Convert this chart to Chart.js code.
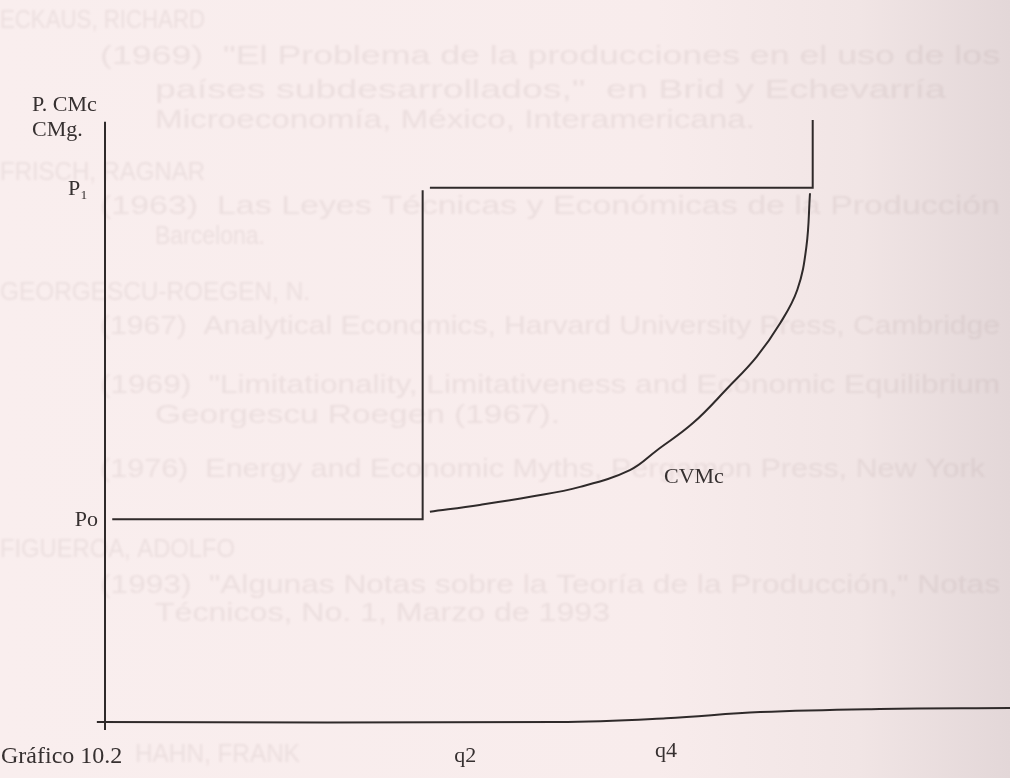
<!DOCTYPE html>
<html>
<head>
<meta charset="utf-8">
<script src="https://cdn.jsdelivr.net/npm/chart.js@4.4.1/dist/chart.umd.min.js"></script>
<style>
html, body { margin: 0; padding: 0; }
body {
  width: 1010px; height: 778px; overflow: hidden;
  background: linear-gradient(to right, #f9eeee 0%, #f8ecec 65%, #f1e5e5 85%, #e3d7d8 100%);
}
canvas { display: block; }
</style>
</head>
<body>
<canvas id="grafico" width="1010" height="778"></canvas>
<script>
// unidades del gráfico: cantidad 0-100 (x), precio 0-100 (y)
const qSteps = [35.1, 78.2];            // q2, q4 (saltos verticales)
const pSteps = [32.6, 85.9];            // Po, P1
const qTop = 96.8;                      // fin del tramo vertical en q4
const pLabels = ['Po', 'P₁'];
const qTickVals = [39.8, 62.0];
const qTickLabels = ['q2', 'q4'];
const yTitle = ['P. CMc', 'CMg.'];
const caption = 'Gráfico 10.2';

// curva CVMc
const cvmcX = [35.9, 41.4, 47.0, 52.5, 58.0, 61.0, 65.0, 68.8, 72.0, 74.6, 76.5, 77.5, 77.9];
const cvmcY = [33.8, 34.9, 36.2, 37.8, 40.5, 43.7, 48.1, 53.7, 58.7, 64.1, 69.5, 76.4, 85.0];

// ejes (el eje x del escaneo se curva un poco a la derecha)
const ejeXx = [-0.9, 50.0, 62.0, 72.4, 85.6, 100];
const ejeXy = [0, 0, 0.6, 1.6, 2.1, 2.25];
const ejeYx = [0, 0];
const ejeYy = [-1.3, 96.5];

// texto que se transparenta de la otra cara de la hoja: [x, y, ancho, texto]
const bleedLines = [
  [0, 28, 205, 'ECKAUS, RICHARD'],
  [100, 64, 900, '(1969)  "El Problema de la producciones en el uso de los'],
  [155, 98, 845, 'países subdesarrollados,"  en Brid y Echevarría'],
  [155, 128, 600, 'Microeconomía, México, Interamericana.'],
  [0, 180, 205, 'FRISCH, RAGNAR'],
  [100, 214, 900, '(1963)  Las Leyes Técnicas y Económicas de la Producción'],
  [155, 244, 110, 'Barcelona.'],
  [0, 300, 310, 'GEORGESCU-ROEGEN, N.'],
  [100, 334, 900, '(1967)  Analytical Economics, Harvard University Press, Cambridge'],
  [100, 393, 900, '(1969)  "Limitationality, Limitativeness and Economic Equilibrium'],
  [155, 423, 405, 'Georgescu Roegen (1967).'],
  [100, 477, 885, '(1976)  Energy and Economic Myths, Pergamon Press, New York'],
  [0, 557, 235, 'FIGUEROA, ADOLFO'],
  [100, 593, 900, '(1993)  "Algunas Notas sobre la Teoría de la Producción," Notas'],
  [155, 621, 455, 'Técnicos, No. 1, Marzo de 1993'],
  [135, 762, 165, 'HAHN, FRANK']
];

const pts = (xs, ys) => xs.map((x, i) => ({x: x, y: ys[i]}));
const linea = '#2f2a2a';

const tramoBajo = [
  {x: 0.8, y: pSteps[0]}, {x: qSteps[0], y: pSteps[0]}, {x: qSteps[0], y: pSteps[1] - 0.4}
];
const tramoAlto = [
  {x: qSteps[0] + 0.8, y: pSteps[1]}, {x: qSteps[1], y: pSteps[1]}, {x: qSteps[1], y: qTop}
];

const fondoTexto = {
  id: 'fondoTexto',
  beforeDraw(chart) {
    const ctx = chart.ctx;
    ctx.save();
    ctx.fillStyle = 'rgba(150,125,125,0.12)';
    ctx.font = '25px "Liberation Sans", Arial, sans-serif';
    ctx.filter = 'blur(1.2px)';
    ctx.textBaseline = 'alphabetic';
    bleedLines.forEach(l => {
      const w = ctx.measureText(l[3]).width;
      const sx = Math.min(1.5, Math.max(0.8, l[2] / w));
      ctx.save();
      ctx.translate(l[0], l[1]);
      ctx.scale(sx, 1);
      ctx.fillText(l[3], 0, 0);
      ctx.restore();
    });
    ctx.restore();
  }
};

const etiquetas = {
  id: 'etiquetas',
  afterDraw(chart) {
    const ctx = chart.ctx;
    const xs = chart.scales.x, ys = chart.scales.y;
    ctx.save();
    ctx.fillStyle = '#363030';
    ctx.font = '22px "Liberation Serif", "Times New Roman", serif';
    ctx.textBaseline = 'alphabetic';
    ctx.textAlign = 'left';
    ctx.fillText(yTitle[0], 32, 111);
    ctx.fillText(yTitle[1], 32, 136);
    ctx.textAlign = 'right';
    ctx.textBaseline = 'middle';
    ctx.fillText(pLabels[0], xs.left - 7, ys.getPixelForValue(pSteps[0]) + 1);
    ctx.fillText(pLabels[1], xs.left - 17, ys.getPixelForValue(pSteps[1]) + 2);
    ctx.textAlign = 'center';
    ctx.textBaseline = 'alphabetic';
    qTickLabels.forEach((t, i) => {
      ctx.fillText(t, xs.getPixelForValue(qTickVals[i]), 762 - i * 5);
    });
    ctx.textAlign = 'left';
    ctx.fillText('CVMc', 664, 483);
    ctx.font = '24px "Liberation Serif", "Times New Roman", serif';
    ctx.fillText(caption, 1, 763);
    ctx.restore();
  }
};

const serie = (data, extra) => Object.assign({
  data: data, showLine: true, borderColor: linea, borderWidth: 2,
  pointRadius: 0, fill: false, clip: false, tension: 0
}, extra || {});

new Chart(document.getElementById('grafico'), {
  type: 'scatter',
  data: {
    datasets: [
      serie(pts(ejeYx, ejeYy)),
      serie(pts(ejeXx, ejeXy), {tension: 0.4}),
      serie(tramoBajo),
      serie(tramoAlto),
      serie(pts(cvmcX, cvmcY), {tension: 0.4})
    ]
  },
  options: {
    responsive: false,
    devicePixelRatio: 1,
    animation: false,
    layout: {padding: {left: 105, right: 0, top: 100, bottom: 56}},
    plugins: {legend: {display: false}, tooltip: {enabled: false}},
    scales: {
      x: {type: 'linear', min: 0, max: 100, display: false},
      y: {type: 'linear', min: 0, max: 100, display: false}
    }
  },
  plugins: [fondoTexto, etiquetas]
});
</script>
</body>
</html>
